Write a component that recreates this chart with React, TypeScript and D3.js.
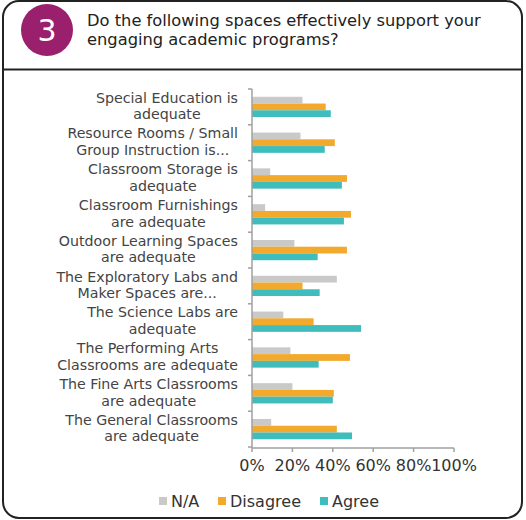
import React from "react";
import * as d3 from "d3";

const width = 526;
const height = 520;

const categories = [
  ["Special Education is", "adequate"],
  ["Resource Rooms / Small", "Group Instruction is..."],
  ["Classroom Storage is", "adequate"],
  ["Classroom Furnishings", "are adequate"],
  ["Outdoor Learning Spaces", "are adequate"],
  ["The Exploratory Labs and", "Maker Spaces are..."],
  ["The Science Labs are", "adequate"],
  ["The Performing Arts", "Classrooms are adequate"],
  ["The Fine Arts Classrooms", "are adequate"],
  ["The General Classrooms", "are adequate"],
];

const seriesNames = ["N/A", "Disagree", "Agree"];
const seriesColors = ["#c9c9c9", "#f2a92c", "#3fbcbc"];

// percent values per series, same order as categories
const naValues = [25, 24, 9, 6.5, 21, 42, 15.5, 19, 20, 9.5];
const disagreeValues = [36.5, 41, 47, 49, 47, 25, 30.5, 48.5, 40.5, 42];
const agreeValues = [39, 36, 44.5, 45.5, 32.5, 33.5, 54, 33, 40, 49.5];

const tickValues = [0, 20, 40, 60, 80, 100];

const font = "'DejaVu Sans', sans-serif";
const labelSize = 14.2;

// measure text so each label block is right aligned, lines centered
const measure = (() => {
  const ctx = document.createElement("canvas").getContext("2d");
  return (s: string) => {
    if (!ctx) return s.length * labelSize * 0.55;
    ctx.font = `${labelSize}px 'DejaVu Sans'`;
    return ctx.measureText(s).width;
  };
})();

const App: React.FC = () => {
  const x = d3.scaleLinear().domain([0, 100]).range([252, 454]);
  const y = d3
    .scaleBand<number>()
    .domain(d3.range(categories.length))
    .range([89, 447])
    .padding(0);
  const sub = d3
    .scaleBand<string>()
    .domain(seriesNames)
    .range([0, y.bandwidth()])
    .paddingInner(0)
    .paddingOuter(1.15);

  const series = [naValues, disagreeValues, agreeValues];
  const bandEdges = d3.range(categories.length + 1).map((i) => 89 + i * y.step());

  return (
    <svg width={width} height={height} style={{ position: "absolute", left: 0, top: 0 }}>
      <rect x={0} y={0} width={width} height={height} fill="#fff" />
      {/* frame */}
      <rect x={3} y={1} width={519} height={517} rx={16} fill="none" stroke="#222" strokeWidth={2} />
      <line x1={3} x2={522} y1={69.5} y2={69.5} stroke="#222" strokeWidth={2} />

      {/* header */}
      <circle cx={47} cy={30} r={26} fill="#9a1f6c" />
      <text x={47} y={41} textAnchor="middle" fill="#fff" fontFamily={font} fontSize={30}>
        3
      </text>
      <text fontFamily={font} fontSize={16.3} fill="#222">
        <tspan x={87} y={26}>Do the following spaces effectively support your</tspan>
        <tspan x={87} y={45}>engaging academic programs?</tspan>
      </text>

      {/* bars */}
      {categories.map((_, i) => (
        <g key={i} transform={`translate(0,${y(i)})`}>
          {series.map((vals, s) => (
            <rect
              key={s}
              x={x(0)}
              y={sub(seriesNames[s])}
              width={x(vals[i]) - x(0)}
              height={sub.bandwidth()}
              fill={seriesColors[s]}
            />
          ))}
        </g>
      ))}

      {/* y axis */}
      <line x1={252} x2={252} y1={89} y2={448} stroke="#a0a0a0" strokeWidth={1.5} />
      {bandEdges.map((e, i) => (
        <line key={i} x1={248} x2={252} y1={e} y2={e} stroke="#a0a0a0" strokeWidth={1.5} />
      ))}
      {categories.map((lines, i) => {
        const cy = (y(i) as number) + y.bandwidth() / 2;
        const w = Math.max(...lines.map(measure));
        const cx = 238 - w / 2;
        return (
          <text key={i} textAnchor="middle" fontFamily={font} fontSize={labelSize} fill="#444">
            <tspan x={cx} y={cy - 4.3}>{lines[0]}</tspan>
            <tspan x={cx} y={cy + 12.2}>{lines[1]}</tspan>
          </text>
        );
      })}

      {/* x axis */}
      <line x1={x(0)} x2={x(100)} y1={448} y2={448} stroke="#a0a0a0" strokeWidth={1.5} />
      {tickValues.map((t) => (
        <g key={t}>
          <line x1={x(t)} x2={x(t)} y1={448} y2={452} stroke="#a0a0a0" strokeWidth={1.5} />
          <text x={x(t)} y={471} textAnchor="middle" fontFamily={font} fontSize={16} fill="#333">
            {t}%
          </text>
        </g>
      ))}

      {/* legend */}
      {[
        { x: 159, tx: 171 },
        { x: 218, tx: 230 },
        { x: 320, tx: 332 },
      ].map((p, s) => (
        <g key={s}>
          <rect x={p.x} y={497} width={8} height={8} fill={seriesColors[s]} />
          <text x={p.tx} y={507} fontFamily={font} fontSize={16} fill="#333">
            {seriesNames[s]}
          </text>
        </g>
      ))}
    </svg>
  );
};

export default App;
